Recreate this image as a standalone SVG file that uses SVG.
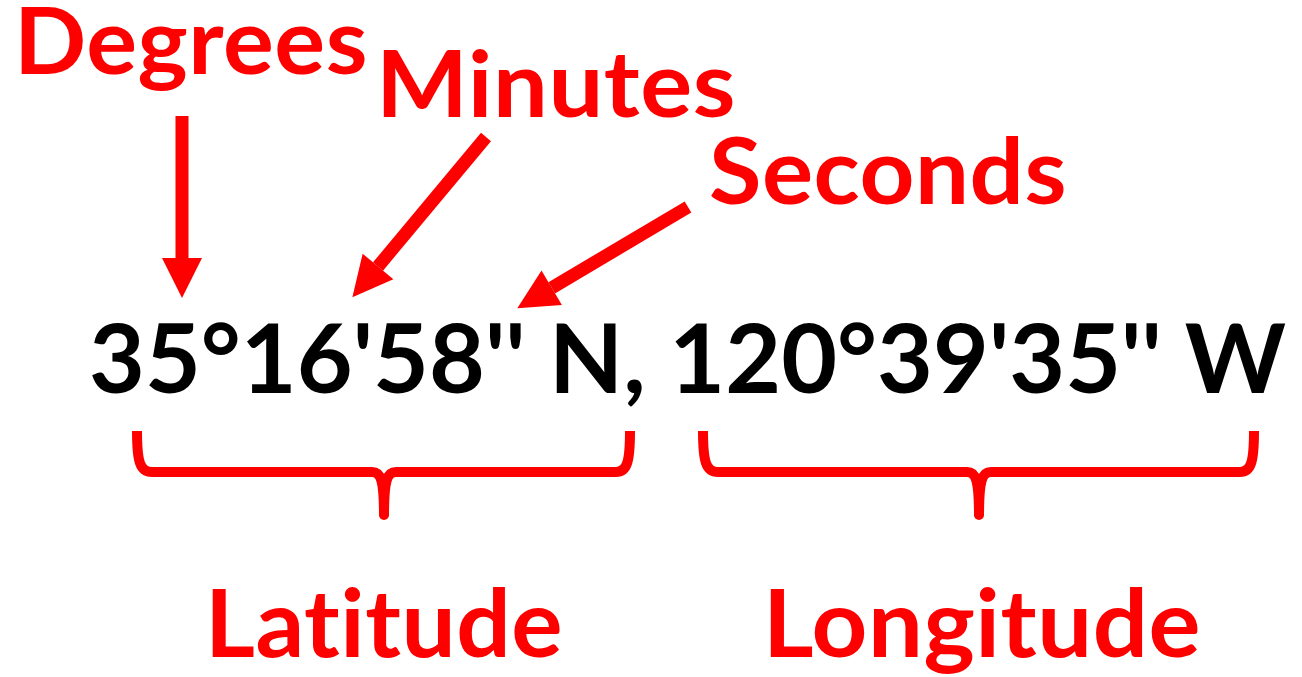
<svg xmlns="http://www.w3.org/2000/svg" width="1302" height="677" viewBox="0 0 1302 677">
  <style>
    .lbl { font-family: Lato, "Liberation Sans", "DejaVu Sans", sans-serif; font-weight: bold; fill: #ff0000; font-variant-ligatures: none; letter-spacing: 0.5px; }
    .coord { font-family: Lato, "Liberation Sans", "DejaVu Sans", sans-serif; font-weight: bold; fill: #000000; font-variant-ligatures: none; }
    .shaft { stroke: #ff0000; stroke-width: 13; fill: none; }
    .brace { stroke: #ff0000; stroke-width: 10; fill: none; stroke-linejoin: round; }
  </style>
  <defs>
    <marker id="head" markerUnits="userSpaceOnUse" markerWidth="42" markerHeight="42" refX="0" refY="20" orient="auto" overflow="visible">
      <path d="M0,0 L40,20 L0,40 Z" fill="#ff0000"/>
    </marker>
  </defs>
  <rect width="1302" height="677" fill="#ffffff"/>

  <g id="degrees">
    <text class="lbl" x="14" y="74" font-size="91" textLength="354" lengthAdjust="spacingAndGlyphs">Degrees</text>
  </g>
  <g id="minutes">
    <text class="lbl" x="376" y="117" font-size="91" textLength="360" lengthAdjust="spacingAndGlyphs">Minutes</text>
  </g>
  <g id="seconds">
    <text class="lbl" x="709" y="204" font-size="91" textLength="358" lengthAdjust="spacingAndGlyphs">Seconds</text>
  </g>
  <g id="coordinates">
    <text class="coord" x="89" y="393" font-size="96" textLength="1197" lengthAdjust="spacingAndGlyphs">35°16'58'' N, 120°39'35'' W</text>
  </g>
  <g id="latitude">
    <text class="lbl" x="205" y="657" font-size="93" textLength="358" lengthAdjust="spacingAndGlyphs">Lat&#x200C;it&#x200C;ude</text>
  </g>
  <g id="longitude">
    <text class="lbl" x="763" y="657" font-size="93" textLength="438" lengthAdjust="spacingAndGlyphs">Longit&#x200C;ude</text>
  </g>

  <g id="connectors">
    <line class="shaft" x1="182" y1="116" x2="182" y2="258" marker-end="url(#head)"/>
    <line class="shaft" x1="486" y1="137" x2="378" y2="266.5" marker-end="url(#head)"/>
    <line class="shaft" x1="688" y1="207" x2="551.7" y2="287.8" marker-end="url(#head)"/>
    <path class="brace" d="M137,431 C137,462 140,472 152,472 L372,472 C381,472 384,480 384,516 M384,516 C384,480 387,472 396,472 L616,472 C627,472 630,462 630,431"/>
    <circle cx="384" cy="515" r="5" fill="#ff0000"/>
    <path class="brace" d="M703,431 C703,462 706,472 718,472 L967,472 C976,472 979,480 979,516 M979,516 C979,480 982,472 991,472 L1240,472 C1251,472 1254,462 1254,431"/>
    <circle cx="979" cy="515" r="5" fill="#ff0000"/>
  </g>
</svg>
